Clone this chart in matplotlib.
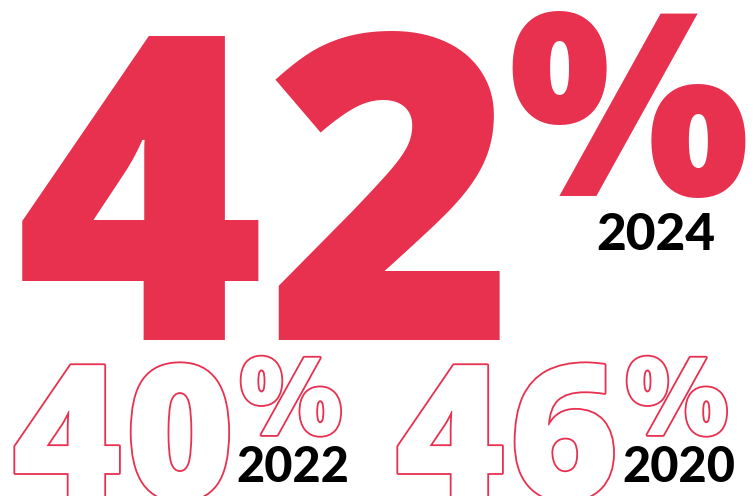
import matplotlib
matplotlib.use("Agg")
import matplotlib.pyplot as plt
import matplotlib.patheffects as pe

# values read from the graphic
years = [2024, 2022, 2020]
shares = [42, 40, 46]

RED = "#E8304F"
W, H = 754, 496

fig = plt.figure(figsize=(W / 100, H / 100), dpi=100)
fig.patch.set_facecolor("white")

def px(x, y):
    return x / W, 1 - y / H

font = dict(family=["Open Sans", "DejaVu Sans"], fontweight=800)
yfont = dict(family=["Lato", "DejaVu Sans"], fontweight="black")

def number(digits, centers, base, size, **kw):
    # each digit placed on its own so the wide display face is roughly matched
    for d, cx in zip(digits, centers):
        x, y = px(cx, base)
        fig.text(x, y, d, fontsize=size, ha="center", va="baseline", **kw, **font)

# headline: latest year, filled
number(str(shares[0]), [140, 391], 340, 307, color=RED)
x, y = px(629, 196)
fig.text(x, y, "%", fontsize=184, color=RED, ha="center", va="baseline", **font)
x, y = px(596, 250)
fig.text(x, y, str(years[0]), fontsize=37, color="black", ha="left", va="baseline", **yfont)

# older years, outlined
outline = [pe.Stroke(linewidth=2.6, foreground=RED), pe.Normal()]
groups = [
    (shares[1], years[1], [67, 180], 291, 236),
    (shares[2], years[2], [450, 564], 677, 622),
]
for share, year, centers, pc, yx in groups:
    number(str(share), centers, 499, 135, color="white", path_effects=outline)
    x, y = px(pc, 435)
    fig.text(x, y, "%", fontsize=78, color="white", ha="center", va="baseline",
             path_effects=outline, **font)
    x, y = px(yx, 482)
    fig.text(x, y, str(year), fontsize=35, color="black", ha="left", va="baseline", **yfont)

fig.savefig("out.png", dpi=100, facecolor="white")
